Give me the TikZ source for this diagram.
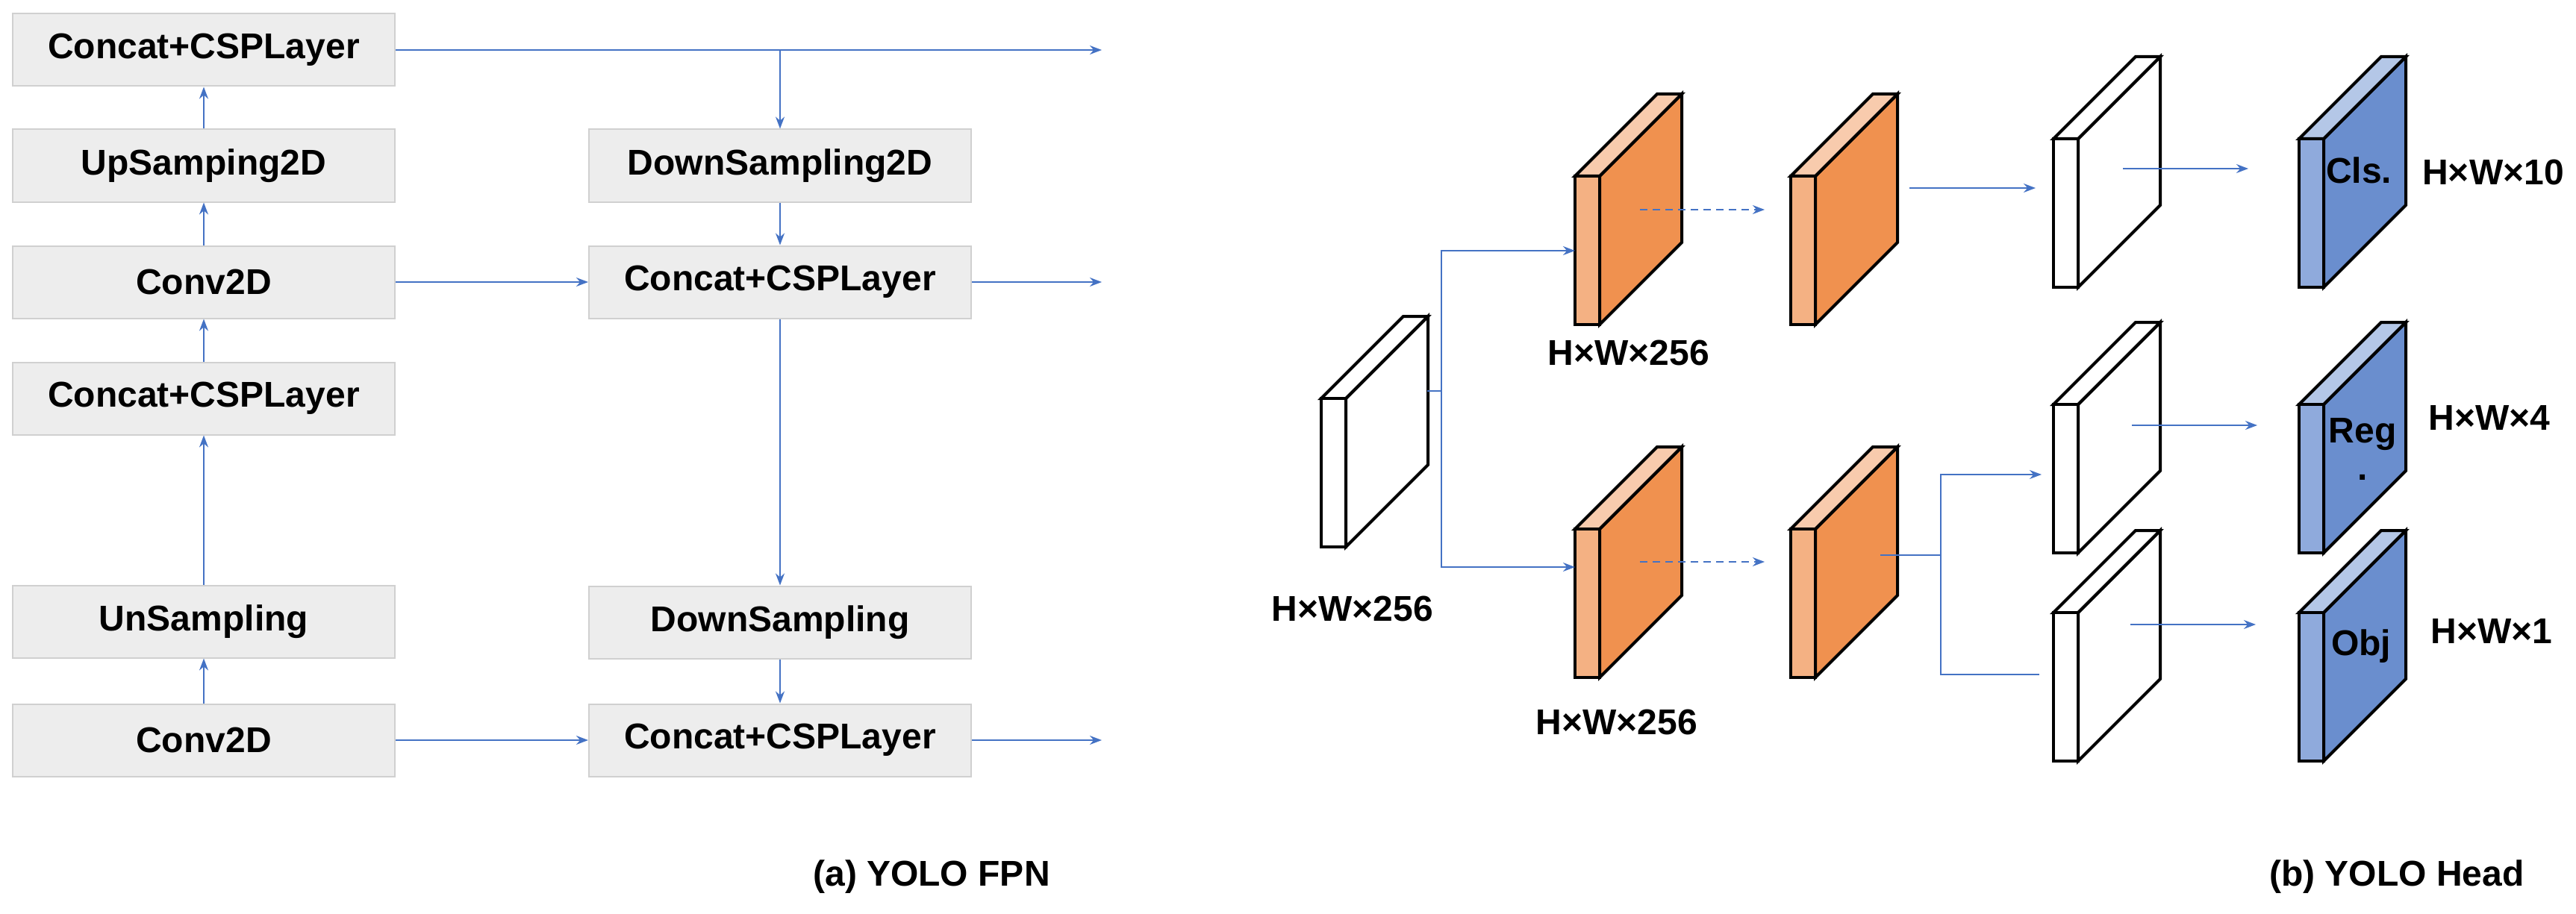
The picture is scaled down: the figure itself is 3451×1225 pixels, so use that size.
\documentclass[tikz,border=0pt]{standalone}
\usepackage{fontspec}
\setmainfont{Liberation Sans}
\usetikzlibrary{arrows.meta}
\definecolor{ln}{HTML}{4472C4}
\definecolor{bx}{HTML}{EDEDED}
\definecolor{bxd}{HTML}{D0D0D0}
\definecolor{o1}{HTML}{F4B183}\definecolor{o2}{HTML}{F0914F}\definecolor{o3}{HTML}{F8CBAD}
\definecolor{b1}{HTML}{8FAADC}\definecolor{b2}{HTML}{6A8ECE}\definecolor{b3}{HTML}{B4C7E7}
\newcommand{\slab}[5]{% x, ytop, front, side, top
  \filldraw[fill=#4,draw=black,line width=4pt,line join=miter] (#1+33,#2)--(#1+143,#2-110)--(#1+143,#2+89)--(#1+33,#2+199)--cycle;
  \filldraw[fill=#5,draw=black,line width=4pt] (#1,#2)--(#1+110,#2-110)--(#1+143,#2-110)--(#1+33,#2)--cycle;
  \filldraw[fill=#3,draw=black,line width=4pt] (#1,#2) rectangle (#1+33,#2+199);}
\begin{document}
\begin{tikzpicture}[x=1pt,y=-1pt,
  box/.style={draw=bxd,fill=bx,line width=2pt,minimum width=512pt,minimum height=97pt,inner sep=0pt,font=\fontsize{48}{50}\selectfont\bfseries},
  lbl/.style={font=\fontsize{48}{50}\selectfont\bfseries,inner sep=0pt},
  ar/.style={draw=ln,line width=2pt,-{Stealth[length=16pt,width=12pt]}},
  pl/.style={draw=ln,line width=2pt}]
\useasboundingbox (0,0) rectangle (3451,1225);
% FPN
\node[box] (a1) at (273,67) {Concat+CSPLayer};
\node[box] (a2) at (273,222) {UpSamping2D};
\node[box] (a3) at (273,378) {Conv2D};
\node[box] (a4) at (273,534) {Concat+CSPLayer};
\node[box] (a5) at (273,833) {UnSampling};
\node[box] (a6) at (273,992) {Conv2D};
\node[box] (b1) at (1045,222) {DownSampling2D};
\node[box] (b2) at (1045,378) {Concat+CSPLayer};
\node[box] (b3) at (1045,834) {DownSampling};
\node[box] (b4) at (1045,992) {Concat+CSPLayer};
\coordinate (o1) at (1476,67);\coordinate (o2) at (1476,378);\coordinate (o3) at (1476,992);
\coordinate (j1) at (1045,67);
\draw[ar] (a6)--(a5);\draw[ar] (a5)--(a4);\draw[ar] (a4)--(a3);\draw[ar] (a3)--(a2);\draw[ar] (a2)--(a1);
\draw[ar] (a1)--(o1);\draw[ar] (j1)--(b1);\draw[ar] (b1)--(b2);\draw[ar] (b2)--(b3);\draw[ar] (b3)--(b4);
\draw[ar] (a3)--(b2);\draw[ar] (a6)--(b4);\draw[ar] (b2)--(o2);\draw[ar] (b4)--(o3);
\node[lbl] (ca) at (1248,1175) {(a) YOLO FPN};
% Head
\slab{1770}{534}{white}{white}{white}
\slab{2110}{236}{o1}{o2}{o3}
\slab{2110}{709}{o1}{o2}{o3}
\slab{2399}{236}{o1}{o2}{o3}
\slab{2399}{709}{o1}{o2}{o3}
\slab{2751}{186}{white}{white}{white}
\slab{2751}{542}{white}{white}{white}
\slab{2751}{821}{white}{white}{white}
\slab{3080}{186}{b1}{b2}{b3}
\slab{3080}{542}{b1}{b2}{b3}
\slab{3080}{821}{b1}{b2}{b3}
\coordinate (in) at (1912,524);\coordinate (sp) at (1931,524);
\coordinate (u1) at (2110,336);\coordinate (d1) at (2110,760);
\draw[pl] (in)--(sp);
\draw[ar] (sp) |- (u1);\draw[ar] (sp) |- (d1);
\coordinate (du1) at (2197,281);\coordinate (du2) at (2364,281);
\coordinate (dd1) at (2197,753);\coordinate (dd2) at (2364,753);
\draw[ar,dashed,dash pattern=on 10pt off 7pt] (du1)--(du2);
\draw[ar,dashed,dash pattern=on 10pt off 7pt] (dd1)--(dd2);
\coordinate (t1) at (2558,252);\coordinate (t2) at (2727,252);\draw[ar] (t1)--(t2);
\coordinate (bo) at (2519,744);\coordinate (bs) at (2600,744);
\coordinate (w2) at (2735,636);\coordinate (w3) at (2732,904);
\draw[pl] (bo)--(bs);\draw[ar] (bs) |- (w2);\draw[pl] (bs) |- (w3);
\coordinate (c1) at (2844,226);\coordinate (c2) at (3012,226);\draw[ar] (c1)--(c2);
\coordinate (r1) at (2856,570);\coordinate (r2) at (3024,570);\draw[ar] (r1)--(r2);
\coordinate (q1) at (2854,837);\coordinate (q2) at (3022,837);\draw[ar] (q1)--(q2);
\node[lbl] (tc) at (3160,228) {Cls.};
\node[lbl] (tr) at (3165,582) {Reg};
\node[lbl] (td) at (3165,640) {.};
\node[lbl] (to) at (3163,866) {Obj};
\node[lbl] (l10) at (3340,231) {H×W×10};
\node[lbl] (l4) at (3335,560) {H×W×4};
\node[lbl] (l1) at (3338,846) {H×W×1};
\node[lbl] (h1) at (2182,473) {H×W×256};
\node[lbl] (h2) at (1812,816) {H×W×256};
\node[lbl] (h3) at (2166,968) {H×W×256};
\node[lbl] (cb) at (3211,1175) {(b) YOLO Head};
\end{tikzpicture}
\end{document}
